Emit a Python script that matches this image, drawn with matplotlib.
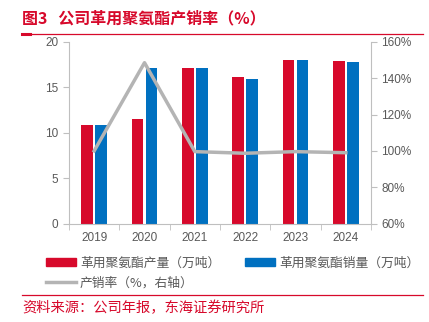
import matplotlib
matplotlib.use("Agg")
import matplotlib.pyplot as plt
import numpy as np
from matplotlib.lines import Line2D
from matplotlib.patches import Patch

plt.rcParams['font.family'] = ['Liberation Sans', 'Noto Sans CJK SC', 'DejaVu Sans']

years = ["2019", "2020", "2021", "2022", "2023", "2024"]
production = [10.82, 11.52, 17.13, 16.10, 18.02, 17.90]   # 万吨
sales = [10.89, 17.13, 17.13, 15.92, 18.02, 17.76]        # 万吨
ratio = [100.0, 148.6, 99.6, 98.7, 99.6, 99.0]            # %

RED = "#D7092B"
BLUE = "#0070C0"
GREY = "#B4B4B4"
TXT = "#595959"
CJK = ['Noto Sans CJK SC', 'DejaVu Sans']

fig = plt.figure(figsize=(4.29, 3.22), dpi=100)
ax = fig.add_axes([69 / 429, 1 - 223.5 / 322, 302 / 429, 181.5 / 322])

x = np.arange(len(years))
w = 0.23
ax.bar(x - 0.14, production, w, color=RED, zorder=2)
ax.bar(x + 0.14, sales, w, color=BLUE, zorder=2)
ax.set_xlim(-0.5, len(years) - 0.5)
ax.set_ylim(0, 20)
ax.set_yticks([0, 5, 10, 15, 20])
ax.set_xticks(x)
ax.set_xticklabels(years)
ax.set_xticks(np.arange(-0.5, len(years)), minor=True)
ax.tick_params(axis="x", which="major", length=0, pad=6)
ax.tick_params(axis="x", which="minor", length=4, color="#BFBFBF", direction="out")
ax.tick_params(axis="y", length=4, color="#BFBFBF", direction="out")
ax.tick_params(labelsize=8.5, labelcolor=TXT)

ax2 = ax.twinx()
ax2.plot(x, ratio, color=GREY, lw=2.5, zorder=3)
ax2.set_ylim(60, 160)
ax2.set_yticks([60, 80, 100, 120, 140, 160])
ax2.set_yticklabels([f"{v}%" for v in [60, 80, 100, 120, 140, 160]])
ax2.tick_params(axis="y", length=4, color="#BFBFBF", direction="out", labelsize=8.5, labelcolor=TXT)

for a in (ax, ax2):
    a.spines["top"].set_visible(False)
    for s in ("left", "right", "bottom"):
        a.spines[s].set_color("#BFBFBF")
        a.spines[s].set_linewidth(0.8)
ax.spines["right"].set_visible(False)
ax2.spines["left"].set_visible(False)
ax2.spines["bottom"].set_visible(False)

# title and frame lines
fig.text(22 / 429, 1 - 18 / 322, "图3   公司革用聚氨酯产销率（%）", color=RED, fontsize=11.5,
         fontweight="bold", family=CJK, va="center", ha="left")
fig.add_artist(Line2D([22 / 429, 423 / 429], [1 - 33.5 / 322] * 2, color=RED, lw=0.9))
fig.add_artist(Line2D([22 / 429, 30 / 429], [1 - 33.5 / 322] * 2, color=RED, lw=2.2))
fig.add_artist(Line2D([22 / 429, 423 / 429], [1 - 295 / 322] * 2, color=RED, lw=0.9))
fig.text(22 / 429, 1 - 308 / 322, "资料来源：公司年报，东海证券研究所", color=RED, fontsize=10.3,
         family=CJK, va="center", ha="left")

# legend, one entry per box so each can sit where the reference has it
entries = [
    (Patch(color=RED), "革用聚氨酯产量（万吨）", 34, 263),
    (Patch(color=BLUE), "革用聚氨酯销量（万吨）", 233, 263),
    (Line2D([], [], color=GREY, lw=2.5), "产销率（%，右轴）", 34, 283),
]
for h, lab, px, py in entries:
    fig.legend([h], [lab], loc="center left", bbox_to_anchor=(px / 429, 1 - py / 322),
               frameon=False, handlelength=2.4, handleheight=0.55, handletextpad=0.3,
               prop={"family": CJK, "size": 9.2}, labelcolor=TXT)

fig.savefig("out.png", dpi=100)
